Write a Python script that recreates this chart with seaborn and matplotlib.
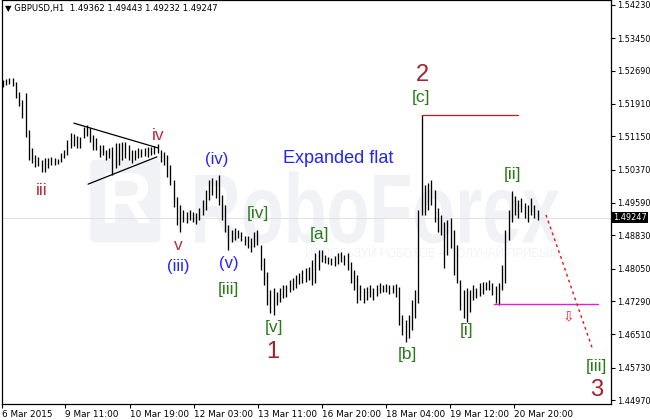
import matplotlib
matplotlib.use('Agg')
import matplotlib.pyplot as plt
import seaborn as sns
from matplotlib.textpath import TextPath
from matplotlib.patches import PathPatch, FancyBboxPatch
from matplotlib.font_manager import FontProperties
from matplotlib.transforms import Affine2D, blended_transform_factory

# GBPUSD H1 bars (high / low) left to right
highs = [
    1.5247, 1.5250, 1.5252, 1.5252, 1.5243, 1.5219, 1.5200, 1.5217, 1.5130, 1.5088,
    1.5072, 1.5067, 1.5060, 1.5064, 1.5064, 1.5067, 1.5064, 1.5062, 1.5076, 1.5083,
    1.5107, 1.5123, 1.5121, 1.5116, 1.5114, 1.5137, 1.5142, 1.5135, 1.5118, 1.5111,
    1.5095, 1.5095, 1.5083, 1.5088, 1.5090, 1.5100, 1.5100, 1.5102, 1.5102, 1.5095,
    1.5083, 1.5083, 1.5088, 1.5086, 1.5088, 1.5090, 1.5090, 1.5093, 1.5097, 1.5083,
    1.5078, 1.5072, 1.5048, 1.5013, 1.4973, 1.4954, 1.4942, 1.4938, 1.4942, 1.4938,
    1.4935, 1.4947, 1.4966, 1.4989, 1.5013, 1.5018, 1.5013, 1.5025, 1.4978, 1.4954,
    1.4907, 1.4896, 1.4900, 1.4896, 1.4891, 1.4882, 1.4882, 1.4877, 1.4891, 1.4896,
    1.4860, 1.4830, 1.4797, 1.4755, 1.4760, 1.4750, 1.4760, 1.4767, 1.4767, 1.4778,
    1.4783, 1.4790, 1.4795, 1.4802, 1.4807, 1.4809, 1.4825, 1.4842, 1.4849, 1.4849,
    1.4837, 1.4832, 1.4830, 1.4835, 1.4842, 1.4844, 1.4837, 1.4842, 1.4821, 1.4802,
    1.4790, 1.4767, 1.4760, 1.4762, 1.4767, 1.4760, 1.4767, 1.4771, 1.4767, 1.4769,
    1.4767, 1.4767, 1.4769, 1.4762, 1.4696, 1.4685, 1.4696, 1.4732, 1.4755, 1.4942,
    1.5165, 1.5001, 1.5006, 1.5013, 1.4989, 1.4947, 1.4931, 1.4914, 1.4919, 1.4924,
    1.4896, 1.4860, 1.4778, 1.4755, 1.4760, 1.4755, 1.4767, 1.4760, 1.4771, 1.4774,
    1.4774, 1.4778, 1.4771, 1.4764, 1.4771, 1.4814, 1.4896, 1.4942, 1.4987, 1.4975,
    1.4966, 1.4971, 1.4959, 1.4954, 1.4971, 1.4954, 1.4942,
]
lows = [
    1.5231, 1.5236, 1.5238, 1.5233, 1.5205, 1.5186, 1.5158, 1.5114, 1.5060, 1.5053,
    1.5043, 1.5046, 1.5032, 1.5032, 1.5041, 1.5048, 1.5048, 1.5050, 1.5055, 1.5064,
    1.5072, 1.5088, 1.5093, 1.5088, 1.5088, 1.5111, 1.5116, 1.5102, 1.5083, 1.5083,
    1.5067, 1.5072, 1.5060, 1.5064, 1.5025, 1.5041, 1.5048, 1.5060, 1.5064, 1.5060,
    1.5053, 1.5060, 1.5064, 1.5067, 1.5069, 1.5067, 1.5072, 1.5074, 1.5076, 1.5055,
    1.5048, 1.5020, 1.5001, 1.4950, 1.4907, 1.4891, 1.4914, 1.4912, 1.4919, 1.4914,
    1.4910, 1.4919, 1.4931, 1.4942, 1.4966, 1.4978, 1.4971, 1.4954, 1.4919, 1.4891,
    1.4849, 1.4868, 1.4872, 1.4877, 1.4870, 1.4860, 1.4853, 1.4844, 1.4856, 1.4860,
    1.4802, 1.4767, 1.4720, 1.4701, 1.4696, 1.4720, 1.4727, 1.4736, 1.4739, 1.4750,
    1.4755, 1.4760, 1.4769, 1.4771, 1.4774, 1.4778, 1.4767, 1.4771, 1.4802, 1.4821,
    1.4818, 1.4816, 1.4814, 1.4811, 1.4816, 1.4821, 1.4814, 1.4802, 1.4771, 1.4755,
    1.4725, 1.4732, 1.4725, 1.4732, 1.4739, 1.4732, 1.4741, 1.4748, 1.4750, 1.4750,
    1.4746, 1.4748, 1.4739, 1.4673, 1.4649, 1.4633, 1.4642, 1.4661, 1.4689, 1.4725,
    1.4931, 1.4931, 1.4942, 1.4954, 1.4914, 1.4891, 1.4884, 1.4807, 1.4837, 1.4853,
    1.4790, 1.4771, 1.4708, 1.4689, 1.4680, 1.4704, 1.4732, 1.4736, 1.4741, 1.4746,
    1.4755, 1.4755, 1.4743, 1.4725, 1.4720, 1.4755, 1.4771, 1.4872, 1.4914, 1.4931,
    1.4924, 1.4938, 1.4924, 1.4914, 1.4931, 1.4924, 1.4919,
]

date_ticks = [-0.3, 19.3, 39.4, 59.3, 79.2, 99.1, 118.9, 138.8, 158.7]
date_labels = ['6 Mar 2015', '9 Mar 11:00', '10 Mar 19:00', '12 Mar 03:00', '13 Mar 11:00',
               '16 Mar 20:00', '18 Mar 04:00', '19 Mar 12:00', '20 Mar 20:00']
price_ticks = [1.54230, 1.53450, 1.52690, 1.51910, 1.51150, 1.50370, 1.49590,
               1.48830, 1.48050, 1.47290, 1.46510, 1.45730, 1.44970]
last_price = 1.49247
header = '\u25BC GBPUSD,H1  1.49362 1.49443 1.49232 1.49247'

# triangle lines, wave-2 top, wave [i] low, forecast path
tri_upper_x, tri_upper_y = [22.0, 48.1], [1.5146, 1.5088]
tri_lower_x, tri_lower_y = [26.4, 47.8], [1.5003, 1.5067]
top_x, top_y = [130.1, 159.9], [1.5165, 1.5165]
low_x, low_y = [152.5, 184.8], [1.4721, 1.4721]
proj_x = [168.6, 173.0, 178.3, 183.2]
proj_y = [1.4931, 1.4837, 1.4720, 1.4614]

# wave labels: text, bar position, price, style group
wave_text = ['iii', 'iv', 'v', '(iii)', '(iv)', '(v)', '[iii]', '[iv]', '[v]', '1',
             '[a]', '2', '[c]', '[b]', '[i]', '[ii]', '[iii]', '3']
wave_x = [12.1, 48.1, 54.3, 54.3, 66.5, 70.2, 69.9, 79.2, 84.2, 83.9,
          98.4, 130.1, 129.8, 125.5, 144.1, 158.1, 184.2, 184.2]
wave_y = [1.4989, 1.5118, 1.4860, 1.4811, 1.5060, 1.4816, 1.4755, 1.4935, 1.4666, 1.4610,
          1.4886, 1.5259, 1.5207, 1.4603, 1.4659, 1.5025, 1.4575, 1.4521]
wave_kind = ['minute', 'minute', 'minute', 'minor', 'minor', 'minor', 'inter', 'inter', 'inter', 'major',
             'inter', 'major', 'inter', 'inter', 'inter', 'inter', 'inter', 'major']

styles = {
    'minute': dict(color='#b3303c', fontsize=12.5),
    'minor': dict(color='#2323ff', fontsize=12),
    'inter': dict(color='#2a7a1c', fontsize=12.5),
    'major': dict(color='#a81f2c', fontsize=17),
}

sns.set_theme(style='white')
plt.rcParams['font.family'] = ['DejaVu Sans']

fig = plt.figure(figsize=(6.5, 4.2), dpi=100)
ax = fig.add_axes([2 / 650, 16 / 420, 609 / 650, 404 / 420])
ax.set_xlim(-0.31, 188.8)
ax.set_ylim(1.44877, 1.54347)

# watermark
wm_col = '#f1f2f6'
logo = FancyBboxPatch((0.145, 0.40), 0.115, 0.205, boxstyle='round,pad=0,rounding_size=0.01',
                      transform=ax.transAxes, facecolor=wm_col, edgecolor='none', zorder=0)
ax.add_patch(logo)
ax.text(0.2025, 0.495, 'R', transform=ax.transAxes, ha='center', va='center',
        fontsize=52, fontweight='bold', color='white', family='Liberation Sans', zorder=0.5)
tp = TextPath((0, 0), 'RoboForex', size=1, prop=FontProperties(family='Liberation Sans', weight='bold'))
bb = tp.get_extents()
x0, x1, yb, yt = 0.317, 0.916, 0.3995, 0.5757
tr = Affine2D().translate(-bb.x0, 0).scale((x1 - x0) / bb.width, (yt - yb) / bb.y1).translate(x0, yb)
ax.add_patch(PathPatch(tp, transform=tr + ax.transAxes, facecolor=wm_col, edgecolor='none', zorder=0))
ax.text(0.711, 0.372, 'ИСПОЛЬЗУЙ РОБОТОВ – ПОЛУЧАЙ ПРИБЫЛЬ', transform=ax.transAxes,
        ha='center', va='center', fontsize=8.3, color='#f2f3f6', family='Liberation Sans', zorder=0)

# bid line
ax.axhline(last_price, color='#e2e2e2', lw=0.8, zorder=1)

# price bars
bars = list(range(len(highs)))
ax.vlines(bars, lows, highs, color='black', lw=0.95, zorder=3)

# drawn lines
sns.lineplot(x=tri_upper_x, y=tri_upper_y, ax=ax, color='black', lw=0.9, zorder=4)
sns.lineplot(x=tri_lower_x, y=tri_lower_y, ax=ax, color='black', lw=0.9, zorder=4)
sns.lineplot(x=top_x, y=top_y, ax=ax, color='#e01010', lw=0.9, zorder=4)
sns.lineplot(x=low_x, y=low_y, ax=ax, color='#e020e0', lw=1.0, zorder=4)
ax.plot(proj_x, proj_y, color='#ee1111', lw=1.0, ls=(0, (2, 2.5)), zorder=4)
ax.text(175.5, 1.4692, '\u21E9', color='#ee2222', fontsize=10, ha='center', va='center', zorder=5)

# wave labels
for t, x, y, k in zip(wave_text, wave_x, wave_y, wave_kind):
    ax.text(x, y, t, ha='center', va='center', family='Liberation Sans', zorder=6, **styles[k])
ax.text(104, 1.5064, 'Expanded flat', ha='center', va='center', color='#2323ff',
        fontsize=13, family='Liberation Sans', zorder=6)

# axes
for s in ax.spines.values():
    s.set_color('black')
    s.set_linewidth(0.9)
ax.yaxis.tick_right()
ax.set_yticks(price_ticks)
ax.set_yticklabels([f'{p:.5f}' for p in price_ticks])
ax.set_xticks(date_ticks)
ax.set_xticklabels(date_labels)
for lbl in ax.get_xticklabels():
    lbl.set_horizontalalignment('left')
ax.tick_params(axis='both', direction='out', length=3, width=0.8, color='black',
               labelcolor='black', bottom=True, right=True, left=False)
ax.tick_params(axis='y', pad=1.0, labelsize=5.9)
ax.tick_params(axis='x', pad=1.5, labelsize=6.4)
ax.set_xlabel('')
ax.set_ylabel('')

# current price tag
ax.text(1.003, last_price, f'{last_price:.5f}', transform=blended_transform_factory(ax.transAxes, ax.transData),
        ha='left', va='center', color='white', fontsize=5.9,
        bbox=dict(facecolor='black', edgecolor='none', pad=1.0), zorder=7, clip_on=False)

fig.text(5 / 650, 1 - 9 / 420, header, fontsize=6.1, va='center', ha='left', color='black')

fig.savefig('out.png', dpi=100)
